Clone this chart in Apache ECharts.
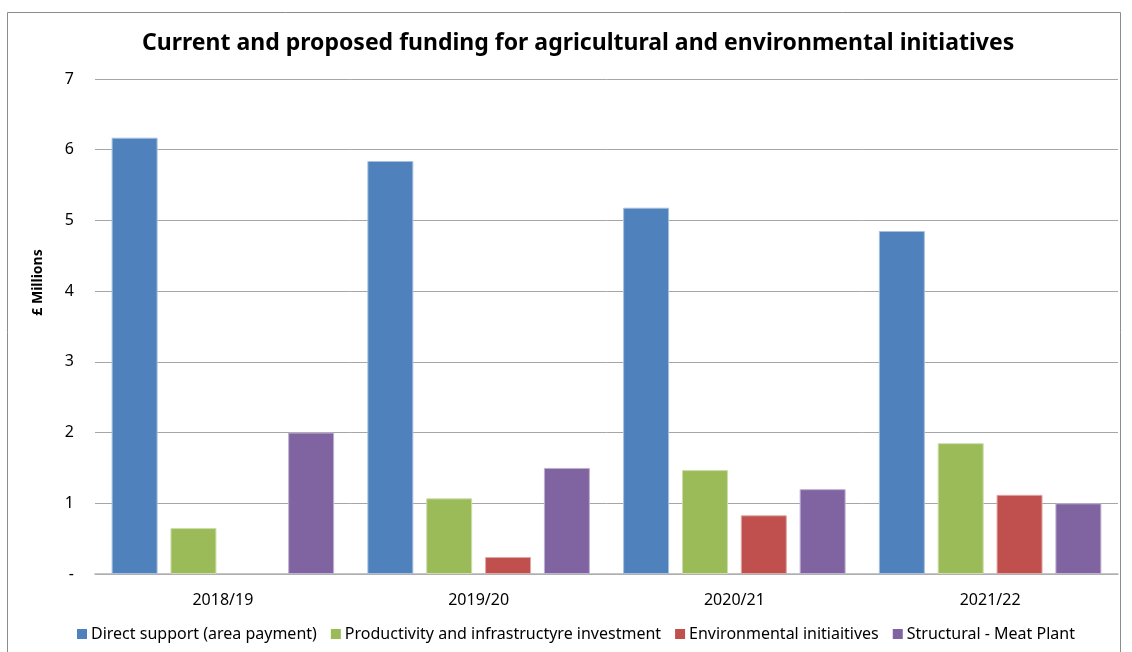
<!DOCTYPE html>
<html>
<head>
<meta charset="utf-8">
<script src="https://cdn.jsdelivr.net/npm/echarts@6/dist/echarts.min.js"></script>
<style>
  html, body { margin: 0; padding: 0; background: #fff; }
  #chart { width: 1132px; height: 652px; }
</style>
</head>
<body>
<div id="chart"></div>
<script>
const years = ['2018/19', '2019/20', '2020/21', '2021/22']
const directSupport = [6.17, 5.84, 5.18, 4.85]
const productivity = [0.65, 1.07, 1.47, 1.85]
const environmental = [0, 0.24, 0.83, 1.12]
const meatPlant = [2.0, 1.5, 1.2, 1.0]
const seriesNames = [
  'Direct support (area payment)',
  'Productivity and infrastructyre investment',
  'Environmental initiaitives',
  'Structural - Meat Plant'
]
const colors = ['#4F81BD', '#9BBB59', '#C0504D', '#8064A2']
const borders = ['#A7C0DE', '#CDDDAC', '#E0A8A6', '#BFB1D0']

const chart = echarts.init(document.getElementById('chart'))
const font = 'Noto Sans'

const values = [directSupport, productivity, environmental, meatPlant]
const option = {
  animation: false,
  color: colors,
  title: {
    text: 'Current and proposed funding for agricultural and environmental initiatives',
    left: 137,
    top: 27,
    textStyle: {fontFamily: font, fontSize: 23, fontWeight: 'bold', color: '#000'}
  },
  graphic: [{
    type: 'rect',
    shape: {x: 7.5, y: 12.5, width: 1113, height: 700},
    style: {fill: 'none', stroke: '#8c8c8c', lineWidth: 1},
    silent: true
  }],
  legend: {
    left: 72,
    bottom: 5,
    itemWidth: 10,
    itemHeight: 10,
    itemGap: 14,
    icon: 'rect',
    itemStyle: {borderWidth: 0},
    textStyle: {fontFamily: font, fontSize: 16, color: '#000', padding: [0, 0, 0, -1]}
  },
  grid: {left: 95, right: 14, top: 79, bottom: 78},
  xAxis: {
    type: 'category',
    data: years,
    axisLine: {lineStyle: {color: '#b3b3b3', width: 1.5}},
    axisTick: {show: false},
    axisLabel: {fontFamily: font, fontSize: 16, color: '#000', margin: 18}
  },
  yAxis: {
    type: 'value',
    min: 0,
    max: 7,
    interval: 1,
    name: '£ Millions',
    nameLocation: 'middle',
    nameGap: 50,
    nameTextStyle: {fontFamily: font, fontSize: 14, fontWeight: 'bold', color: '#000', padding: [0, 0, 0, 88]},
    axisLine: {show: false},
    axisTick: {show: false},
    splitLine: {lineStyle: {color: '#a6a6a6', width: 1}},
    axisLabel: {
      fontFamily: font, fontSize: 16, color: '#000', margin: 21,
      formatter: v => v === 0 ? '-' : String(v)
    }
  },
  series: seriesNames.map((name, i) => ({
    name: name,
    type: 'bar',
    data: values[i].map(v => v === 0 ? {value: v, itemStyle: {borderWidth: 0}} : v),
    barGap: '28%',
    barCategoryGap: '13%',
    itemStyle: {color: colors[i], borderColor: borders[i], borderWidth: 1}
  }))
}
chart.setOption(option)
</script>
</body>
</html>
